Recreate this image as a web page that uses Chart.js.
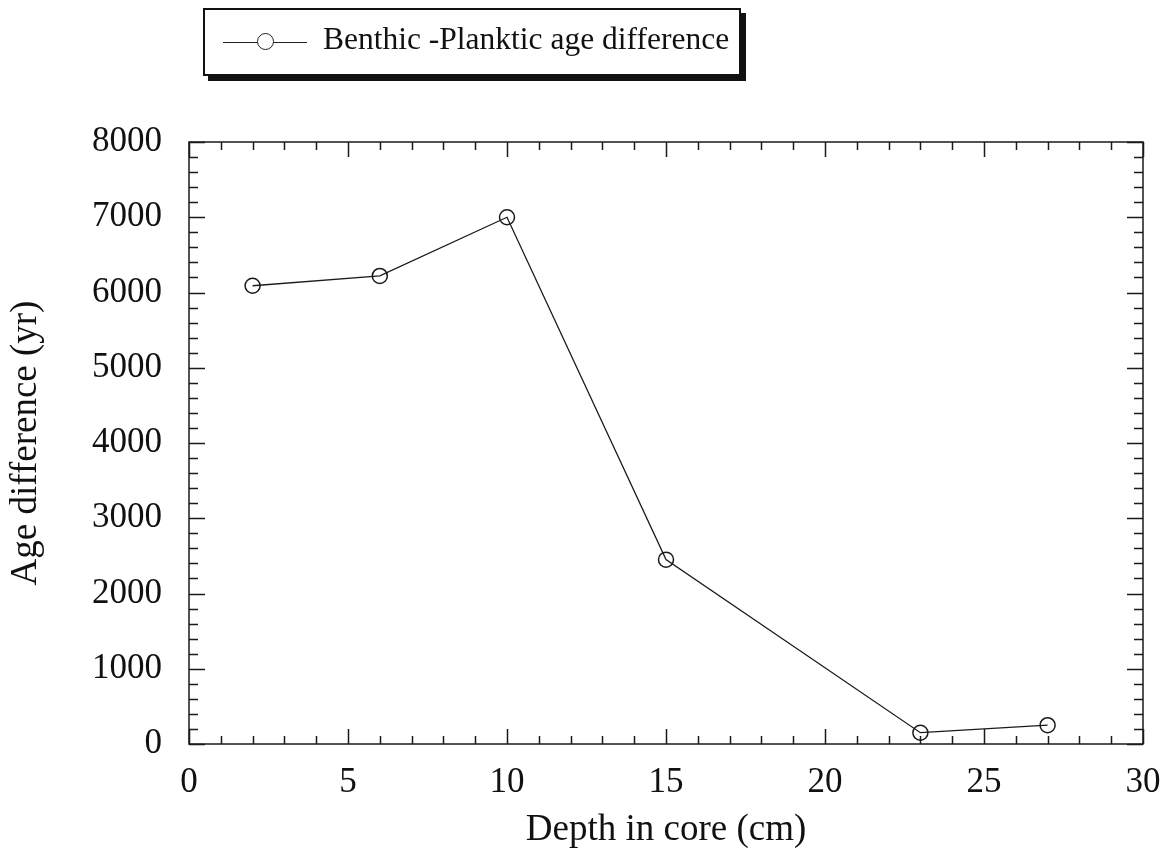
<!DOCTYPE html>
<html>
<head>
<meta charset="utf-8">
<script src="https://cdn.jsdelivr.net/npm/chart.js@4/dist/chart.umd.min.js"></script>
<style>
  html, body { margin: 0; padding: 0; background: #fff; }
  #wrap { position: relative; width: 1169px; height: 856px; }
  #legend {
    position: absolute; left: 203px; top: 8px; width: 534px; height: 64px;
    border: 2px solid #111; background: #fff;
    box-shadow: 5px 5px 0 #111;
    font-family: 'Liberation Serif', 'Times New Roman', serif; font-size: 31.5px; color: #111;
  }
  #legend .sample { position: absolute; left: 18px; top: 32px; width: 84px; border-top: 1.5px solid #222; }
  #legend .dot { position: absolute; left: 52px; top: 23px; width: 15px; height: 15px; border: 1.5px solid #222; border-radius: 50%; background: #fff; }
  #legend .txt { position: absolute; left: 118px; top: 11px; white-space: nowrap; }
</style>
</head>
<body>
<div id="wrap">
  <canvas id="c" width="1169" height="856"></canvas>
  <div id="legend"><div class="sample"></div><div class="dot"></div><div class="txt">Benthic -Planktic age difference</div></div>
</div>
<script>
// depth (cm) vs benthic-planktic age difference (yr)
const depth = [2, 6, 10, 15, 23, 27];
const ageDiff = [6090, 6220, 7000, 2450, 150, 250];
const xTitle = 'Depth in core (cm)';
const yTitle = 'Age difference (yr)';
const INK = '#1a1a1a';
const FONT = "'Liberation Serif', 'Times New Roman', serif";

// box frame + inward major/minor ticks on all four sides
const frameTicks = {
  id: 'frameTicks',
  afterDraw(chart) {
    const { ctx, chartArea: a, scales: { x, y } } = chart;
    ctx.save();
    ctx.strokeStyle = INK;
    ctx.lineWidth = 1.5;
    ctx.strokeRect(a.left, a.top, a.right - a.left, a.bottom - a.top);
    for (let v = x.min; v <= x.max; v += 1) {
      const px = Math.round(x.getPixelForValue(v)) + 0.5;
      const len = v % 5 === 0 ? 15 : 8;
      ctx.beginPath();
      ctx.moveTo(px, a.bottom); ctx.lineTo(px, a.bottom - len);
      ctx.moveTo(px, a.top); ctx.lineTo(px, a.top + len);
      ctx.stroke();
    }
    for (let v = y.min; v <= y.max; v += 200) {
      const py = Math.round(y.getPixelForValue(v)) + 0.5;
      const len = v % 1000 === 0 ? 16 : 9;
      ctx.beginPath();
      ctx.moveTo(a.left, py); ctx.lineTo(a.left + len, py);
      ctx.moveTo(a.right, py); ctx.lineTo(a.right - len, py);
      ctx.stroke();
    }
    ctx.restore();
  },
};

new Chart(document.getElementById('c'), {
  type: 'line',
  data: {
    datasets: [{
      label: 'Benthic -Planktic age difference',
      data: depth.map((d, i) => ({ x: d, y: ageDiff[i] })),
      borderColor: INK,
      borderWidth: 1.3,
      pointRadius: 7.5,
      pointBorderWidth: 1.5,
      pointBackgroundColor: 'rgba(0,0,0,0)',
      pointBorderColor: INK,
      tension: 0,
    }],
  },
  options: {
    responsive: false,
    animation: false,
    layout: { padding: { top: 142, right: 26, left: 0, bottom: 0 } },
    plugins: { legend: { display: false }, tooltip: { enabled: false } },
    scales: {
      x: {
        type: 'linear', min: 0, max: 30,
        afterFit: (s) => { s.height = 112; s.paddingRight = 0; },
        grid: { display: false, drawTicks: false },
        border: { display: false },
        ticks: { stepSize: 5, padding: 18, color: '#111', font: { family: FONT, size: 35 }, callback: (v) => String(v) },
        title: { display: true, text: xTitle, color: '#111', font: { family: FONT, size: 37 }, padding: { top: 0 } },
      },
      y: {
        type: 'linear', min: 0, max: 8000,
        afterFit: (s) => { s.width = 189; },
        grid: { display: false, drawTicks: false },
        border: { display: false },
        ticks: { stepSize: 1000, padding: 27, color: '#111', font: { family: FONT, size: 35 }, callback: (v) => String(v) },
        title: { display: true, text: yTitle, color: '#111', font: { family: FONT, size: 37 }, padding: { bottom: 2 } },
      },
    },
  },
  plugins: [frameTicks],
});
</script>
</body>
</html>
